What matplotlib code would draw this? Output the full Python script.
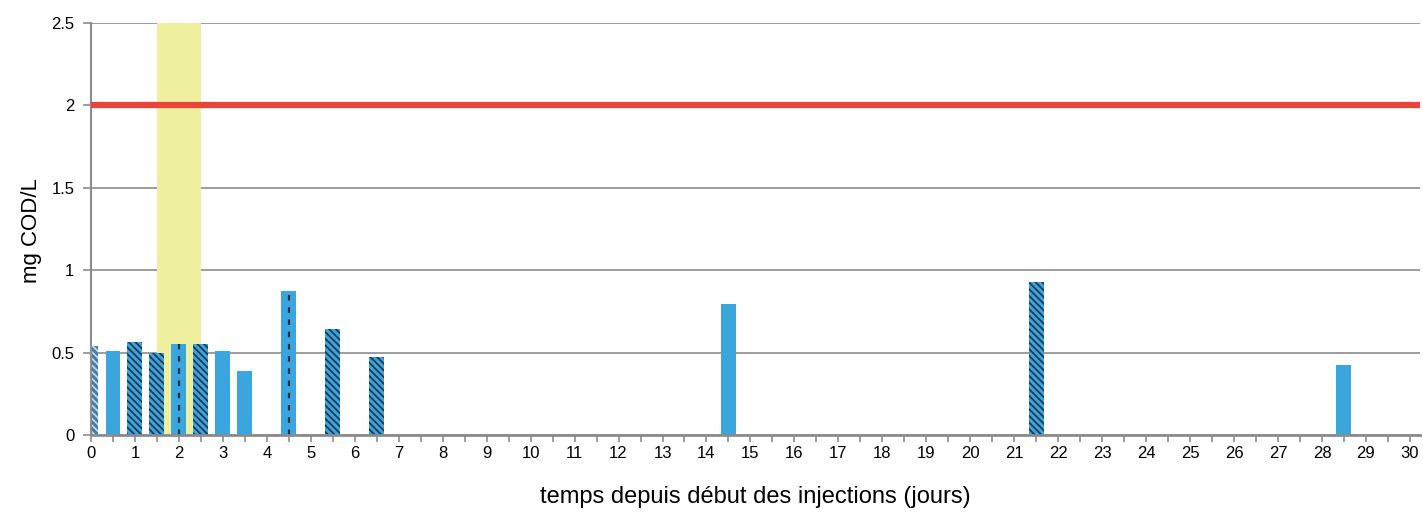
import matplotlib
matplotlib.use("Agg")
from matplotlib import pyplot as plt
from matplotlib.ticker import MultipleLocator, FuncFormatter
import numpy as np

plt.rcParams['font.family'] = ['Liberation Sans', 'DejaVu Sans']
plt.rcParams['hatch.linewidth'] = 1.3

# sampling days and measured concentrations (mg COD/L)
days = [0, 0.5, 1, 1.5, 2, 2.5, 3, 3.5, 4.5, 5.5, 6.5, 14.5, 21.5, 28.5]
values = [0.54, 0.51, 0.565, 0.50, 0.55, 0.555, 0.51, 0.39, 0.875, 0.645, 0.475, 0.795, 0.93, 0.425]
styles = ['light', 'plain', 'hatch', 'hatch', 'dash', 'hatch', 'plain', 'plain',
          'dash', 'hatch', 'hatch', 'plain', 'hatch', 'plain']

threshold = 2.0
injection_window = (1.5, 2.5)

blue = '#3ba6dd'
grey = '#8a8c8f'

fig = plt.figure(figsize=(14.23, 5.15), dpi=100)
ax = fig.add_axes([91 / 1423, 1 - 435 / 515, 1329 / 1423, 412 / 515])

ax.axvspan(*injection_window, color='#eef0a0', zorder=1, lw=0)
ax.set_axisbelow(True)
ax.yaxis.grid(True, color=grey, lw=1.2)

width = 0.34
for d, v, s in zip(days, values, styles):
    if s == 'plain':
        ax.bar(d, v, width, color=blue, lw=0, zorder=2)
    elif s == 'hatch':
        ax.bar(d, v, width, facecolor=blue, edgecolor='#1c3852', hatch='\\\\\\\\\\', lw=0, zorder=2)
    elif s == 'light':
        ax.bar(d, v, width, facecolor='#3f7fa8', edgecolor='#c8d4de', hatch='\\\\\\\\\\', lw=0, zorder=2)
    elif s == 'dash':
        ax.bar(d, v, width, color=blue, lw=0, zorder=2)
        ax.vlines(d, 0, v, colors='#14304a', lw=1.6, linestyles=(0, (2.5, 3)), zorder=3)

ax.axhline(threshold, color='#ec4238', lw=4.5, zorder=4)

ax.set_xlim(0, 30.23)
ax.set_ylim(0, 2.5)
ax.xaxis.set_major_locator(MultipleLocator(1))
ax.xaxis.set_minor_locator(MultipleLocator(0.5))
ax.yaxis.set_major_locator(MultipleLocator(0.5))
ax.yaxis.set_major_formatter(FuncFormatter(lambda v, p: '%g' % v))

for side in ['top', 'right']:
    ax.spines[side].set_visible(False)
ax.spines['left'].set_color(grey)
ax.spines['left'].set_linewidth(1.5)
ax.spines['bottom'].set_color(grey)
ax.spines['bottom'].set_linewidth(2)
ax.spines['bottom'].set_zorder(5)

ax.tick_params(axis='x', which='both', length=5, width=1.2, color=grey, labelsize=12, pad=3)
ax.tick_params(axis='y', length=6, width=1.2, color=grey, labelsize=12, pad=6)

ax.set_xlabel('temps depuis début des injections (jours)', fontsize=17, labelpad=18)
ax.set_ylabel('mg COD/L', fontsize=16)
ax.yaxis.set_label_coords(-0.037, 0.495)

fig.savefig('out.png', dpi=100)
